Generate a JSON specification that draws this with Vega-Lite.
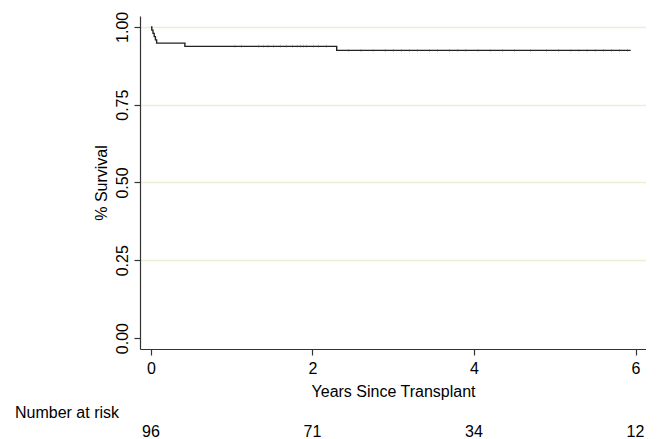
{
  "$schema": "https://vega.github.io/schema/vega-lite/v6.json",
  "padding": {"left": 15, "top": 11, "right": 0, "bottom": 0},
  "background": "white",
  "config": {
    "view": {"stroke": null},
    "font": "Liberation Sans",
    "axis": {
      "labelFont": "Liberation Sans",
      "titleFont": "Liberation Sans",
      "labelFontSize": 16,
      "titleFontSize": 16,
      "titleFontWeight": "normal",
      "labelColor": "#000000",
      "titleColor": "#000000",
      "domainColor": "#333333",
      "tickColor": "#333333",
      "domainWidth": 1.2,
      "tickWidth": 1.2,
      "tickSize": 6
    },
    "concat": {"spacing": 6}
  },
  "datasets": {
    "km": [
      {"t": 0, "s": 1.0},
      {"t": 0.01, "s": 0.9896},
      {"t": 0.025, "s": 0.9792},
      {"t": 0.04, "s": 0.9688},
      {"t": 0.055, "s": 0.9583},
      {"t": 0.07, "s": 0.9479},
      {"t": 0.42, "s": 0.9375},
      {"t": 2.3, "s": 0.9245},
      {"t": 5.94, "s": 0.9245}
    ],
    "censor": [
      {"t": 1.04, "s": 0.9375}, {"t": 1.12, "s": 0.9375}, {"t": 1.33, "s": 0.9375},
      {"t": 1.39, "s": 0.9375}, {"t": 1.45, "s": 0.9375}, {"t": 1.52, "s": 0.9375},
      {"t": 1.6, "s": 0.9375}, {"t": 1.68, "s": 0.9375}, {"t": 1.75, "s": 0.9375},
      {"t": 1.81, "s": 0.9375}, {"t": 1.85, "s": 0.9375}, {"t": 1.89, "s": 0.9375},
      {"t": 1.93, "s": 0.9375}, {"t": 2.01, "s": 0.9375}, {"t": 2.07, "s": 0.9375},
      {"t": 2.17, "s": 0.9375},
      {"t": 2.45, "s": 0.9245}, {"t": 2.6, "s": 0.9245}, {"t": 2.75, "s": 0.9245},
      {"t": 2.9, "s": 0.9245}, {"t": 3.0, "s": 0.9245}, {"t": 3.1, "s": 0.9245},
      {"t": 3.2, "s": 0.9245}, {"t": 3.3, "s": 0.9245}, {"t": 3.45, "s": 0.9245},
      {"t": 3.55, "s": 0.9245}, {"t": 3.7, "s": 0.9245}, {"t": 3.8, "s": 0.9245},
      {"t": 3.9, "s": 0.9245}, {"t": 4.05, "s": 0.9245}, {"t": 4.2, "s": 0.9245},
      {"t": 4.35, "s": 0.9245}, {"t": 4.5, "s": 0.9245}, {"t": 4.7, "s": 0.9245},
      {"t": 4.9, "s": 0.9245}, {"t": 5.05, "s": 0.9245}, {"t": 5.2, "s": 0.9245},
      {"t": 5.3, "s": 0.9245}, {"t": 5.4, "s": 0.9245}, {"t": 5.5, "s": 0.9245},
      {"t": 5.6, "s": 0.9245}, {"t": 5.7, "s": 0.9245}, {"t": 5.8, "s": 0.9245},
      {"t": 5.9, "s": 0.9245}
    ],
    "risk": [
      {"t": 0, "n": "96"},
      {"t": 2, "n": "71"},
      {"t": 4, "n": "34"},
      {"t": 6, "n": "12"}
    ]
  },
  "vconcat": [
    {
      "width": 506,
      "height": 333,
      "layer": [
        {
          "data": {"name": "km"},
          "mark": {"type": "line", "interpolate": "step-after", "color": "#222222", "strokeWidth": 1.4},
          "encoding": {
            "x": {
              "field": "t", "type": "quantitative",
              "scale": {"domain": [-0.136, 6.13], "nice": false, "zero": false},
              "axis": {
                "title": "Years Since Transplant",
                "values": [0, 2, 4, 6],
                "format": "d",
                "grid": false,
                "labelPadding": 5,
                "titlePadding": 7,
                "labelFlush": false
              }
            },
            "y": {
              "field": "s", "type": "quantitative",
              "scale": {"domain": [-0.035, 1.035], "nice": false, "zero": false},
              "axis": {
                "title": "% Survival",
                "values": [0, 0.25, 0.5, 0.75, 1],
                "format": ".2f",
                "labelAngle": -90,
                "labelAlign": "center",
                "labelBaseline": "bottom",
                "labelPadding": 4,
                "titlePadding": 5,
                "grid": true,
                "gridColor": "#ebeed3",
                "gridWidth": 1.5,
                "gridOpacity": {"condition": {"test": "datum.value == 0", "value": 0}, "value": 1},
                "labelFlush": false
              }
            }
          }
        },
        {
          "data": {"name": "censor"},
          "mark": {"type": "tick", "orient": "vertical", "color": "#555555", "thickness": 0.5, "size": 3},
          "encoding": {
            "x": {"field": "t", "type": "quantitative"},
            "y": {"field": "s", "type": "quantitative"}
          }
        }
      ]
    },
    {
      "width": 506,
      "height": 14,
      "title": {
        "text": "Number at risk",
        "anchor": "start",
        "frame": "group",
        "dx": -125,
        "offset": 4,
        "fontSize": 16,
        "fontWeight": "normal",
        "font": "Liberation Sans",
        "color": "#000000"
      },
      "data": {"name": "risk"},
      "mark": {"type": "text", "fontSize": 16, "font": "Liberation Sans", "color": "#000000", "baseline": "middle", "align": "center", "clip": true},
      "encoding": {
        "x": {
          "field": "t", "type": "quantitative",
          "scale": {"domain": [-0.136, 6.13], "nice": false, "zero": false},
          "axis": null
        },
        "text": {"field": "n", "type": "nominal"}
      }
    }
  ]
}
